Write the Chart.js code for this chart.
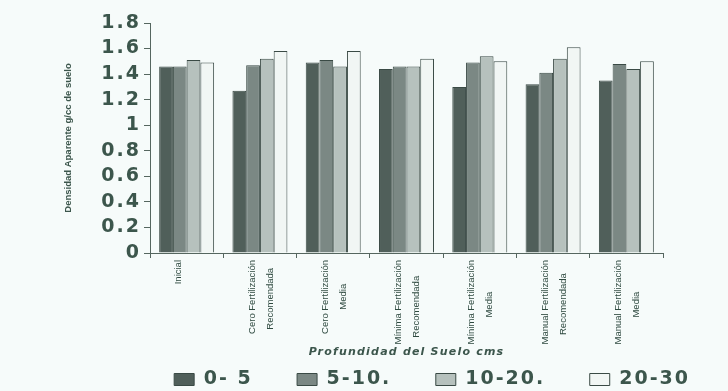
<!DOCTYPE html>
<html><head><meta charset="utf-8">
<script src="https://cdn.jsdelivr.net/npm/chart.js@4/dist/chart.umd.min.js"></script>
<style>html,body{margin:0;padding:0;background:#f6fbfa;}#w{width:728px;height:391px;}</style>
</head><body><div id="w"><canvas id="c"></canvas></div>
<script>
const categories = [
  ["Inicial"],
  ["Cero Fertilización","Recomendada"],
  ["Cero Fertilización","Media"],
  ["Mínima Fertilización","Recomendada"],
  ["Mínima Fertilización","Media"],
  ["Manual Fertilización","Recomendada"],
  ["Manual Fertilización","Media"]
];
const seriesNames = ["0- 5", "5-10.", "10-20.", "20-30"];
const d0_5   = [1.46, 1.27, 1.49, 1.44, 1.30, 1.32, 1.35];
const d5_10  = [1.46, 1.47, 1.51, 1.46, 1.49, 1.41, 1.48];
const d10_20 = [1.51, 1.52, 1.46, 1.46, 1.54, 1.52, 1.44];
const d20_30 = [1.49, 1.58, 1.58, 1.52, 1.50, 1.61, 1.50];
const yTicks = [0,0.2,0.4,0.6,0.8,1,1.2,1.4,1.6,1.8];

const colors = ["#505f5a", "#7b8884", "#b6c1bd", "#f1f6f4"];
const values = [d0_5, d5_10, d10_20, d20_30];
const txt = "#3c564c";

// wide lettering for the heavy display text (ticks, legend, axis title)
const cv = document.getElementById('c');
const ctx = cv.getContext('2d');
function spacingFor(font){
  if (!font.includes('DejaVu')) return '0px';
  const m = font.match(/(\d+(?:\.\d+)?)px/);
  const s = m ? +m[1] : 10;
  return (s >= 14 ? 2 : 1.2) + 'px';
}
const oFill = ctx.fillText;
ctx.fillText = function(t, x, y, mw){
  const p = this.letterSpacing; this.letterSpacing = spacingFor(this.font);
  if (mw === undefined) oFill.call(this, t, x, y); else oFill.call(this, t, x, y, mw);
  this.letterSpacing = p;
};
const oMeasure = ctx.measureText;
ctx.measureText = function(t){
  const p = this.letterSpacing; this.letterSpacing = spacingFor(this.font);
  const r = oMeasure.call(this, t); this.letterSpacing = p; return r;
};

// centre the second line of each label under the first
const mctx = document.createElement('canvas').getContext('2d');
const labelFont = { family: "'Liberation Sans Narrow', Arial", size: 9.5, lineHeight: 1.9 };
mctx.font = "9.5px 'Liberation Sans Narrow'";
function centredLabel(lines){
  if (lines.length < 2) return lines[0];
  const w1 = mctx.measureText(lines[0]).width, w2 = mctx.measureText(lines[1]).width;
  const sp = mctx.measureText(' ').width;
  const n = Math.max(0, Math.round((w1 - w2) / 2 / sp));
  return [lines[0], lines[1] + ' '.repeat(n)];
}

new Chart(cv, {
  type: 'bar',
  data: {
    labels: categories,
    datasets: values.map((v,i)=>({
      label: seriesNames[i], data: v, yAxisID: 'y',
      backgroundColor: colors[i], borderColor: "#3a4a45", borderWidth: 1,
      categoryPercentage: 0.75, barPercentage: 1.0
    }))
  },
  options: {
    responsive: true, maintainAspectRatio: false, animation: false,
    layout: { padding: { left: 0, right: 28, top: 23, bottom: 0 } },
    plugins: {
      tooltip: { enabled: false },
      legend: {
        position: 'bottom', align: 'end', maxHeight: 31,
        labels: { color: txt, boxWidth: 20, boxHeight: 12, padding: 10,
          font: { family: "'DejaVu Sans'", size: 19, weight: 'bold' },
          generateLabels: chart => {
            const items = Chart.defaults.plugins.legend.labels.generateLabels(chart);
            items.forEach((it, i) => { if (i < items.length - 1) it.text = it.text + '    '; it.lineWidth = 1; it.strokeStyle = "#3a4a45"; });
            return items;
          } }
      }
    },
    scales: {
      x: {
        afterFit: s => { s.height = 107; },
        grid: { display: true, drawOnChartArea: false, offset: true, tickLength: 5, color: "#55665f" },
        border: { color: "#55665f" },
        ticks: { color: "#2f4a40", maxRotation: 90, minRotation: 90, autoSkip: false,
          font: labelFont, padding: 2, labelOffset: -8,
          callback: (v, i) => centredLabel(categories[i]) },
        title: { display: true, text: "Profundidad del Suelo cms", color: txt,
          font: { family: "'DejaVu Sans'", size: 11, weight: 'bold', style: 'italic' }, padding: { top: 0, bottom: 1 } }
      },
      y: {
        min: 0, max: 1.8,
        afterFit: s => { s.width = 150; },
        afterBuildTicks: ax => { ax.ticks = yTicks.map(v => ({ value: v })); },
        grid: { display: true, drawOnChartArea: false, tickLength: 6, color: "#55665f" },
        border: { color: "#55665f" },
        ticks: { color: txt, padding: 3, autoSkip: false, callback: v => String(+v.toFixed(1)),
          font: { family: "'DejaVu Sans'", size: 19, weight: 'bold' } },
        title: { display: true, text: "Densidad Aparente g/cc de suelo", color: txt,
          font: { family: "'Liberation Sans Narrow', Arial", size: 9.5, weight: 'bold' }, padding: { top: 63, bottom: 0 } }
      },
      r: {
        position: 'right', display: true, min: 0, max: 1,
        afterFit: s => { s.width = 37; },
        grid: { display: false }, border: { display: false }, ticks: { display: false }
      }
    }
  }
});
</script></body></html>
